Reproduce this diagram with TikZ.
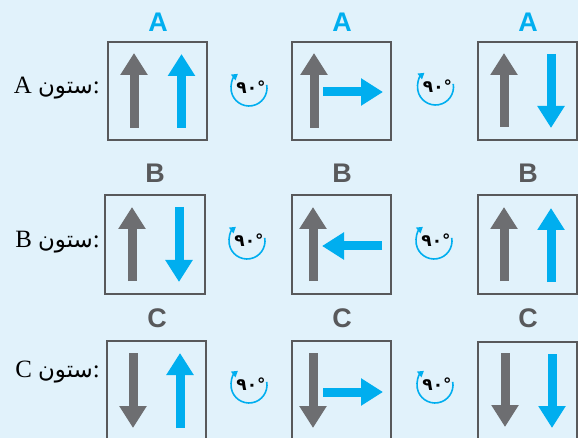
\documentclass[tikz,border=0pt]{standalone}
\usepackage{fontspec}
\usetikzlibrary{arrows.meta,calc}
\TeXXeTstate=1
\newfontfamily\arabicfont[Script=Arabic]{DejaVu Sans}
\newfontfamily\headfont{Liberation Sans}
\newfontfamily\latinserif{Liberation Serif}
\definecolor{bgblue}{HTML}{E1F2FB}
\definecolor{cyanarrow}{HTML}{00AEEF}
\definecolor{grayarrow}{HTML}{6D6E71}
\definecolor{boxgray}{HTML}{58595B}
\tikzset{
  panel/.style={draw=boxgray, line width=1.5bp},
  garrow/.style={draw=grayarrow, line width=9bp, -{Triangle[length=22bp,width=26bp,fill=grayarrow]}},
  barrow/.style={draw=cyanarrow, line width=9bp, -{Triangle[length=22bp,width=26bp,fill=cyanarrow]}},
  headA/.style={font=\headfont\bfseries\fontsize{27}{27}\selectfont, text=cyanarrow},
  headG/.style={font=\headfont\bfseries\fontsize{27}{27}\selectfont, text=boxgray},
  rowlabel/.style={anchor=east, font=\fontsize{25}{25}\selectfont, text=black, inner sep=0pt},
  rotarrow/.style={draw=cyanarrow, line width=1.6bp, -{Triangle[length=6bp,width=7bp]}},
  degtext/.style={font=\arabicfont\bfseries\fontsize{17}{17}\selectfont, inner sep=0pt}
}
\newcommand\sitoon{{\arabicfont\fontsize{23}{23}\selectfont\beginR ستون\endR}}
\begin{document}
\begin{tikzpicture}[x=1bp,y=-1bp]
\clip (0,0) rectangle (578,438);
\fill[bgblue] (0,0) rectangle (578,438);
\useasboundingbox (0,0) rectangle (578,438);

% ---------- row labels ----------
\node[rowlabel] (lA) at (100,88) {\latinserif A \sitoon:};
\node[rowlabel] (lB) at (100,242) {\latinserif B \sitoon:};
\node[rowlabel] (lC) at (100,372) {\latinserif C \sitoon:};

% ---------- headings ----------
\node[headA] (hA1) at (158,22) {A};
\node[headA] (hA2) at (342,22) {A};
\node[headA] (hA3) at (528,22) {A};
\node[headG] (hB1) at (155,173) {B};
\node[headG] (hB2) at (342,173) {B};
\node[headG] (hB3) at (528,173) {B};
\node[headG] (hC1) at (157,318) {C};
\node[headG] (hC2) at (342,318) {C};
\node[headG] (hC3) at (528,318) {C};

% ---------- boxes ----------
\draw[panel] (108,42) rectangle (207,140);
\draw[panel] (292,42) rectangle (391,140);
\draw[panel] (478,42) rectangle (577,140);
\draw[panel] (105,195) rectangle (205,294);
\draw[panel] (292,195) rectangle (391,294);
\draw[panel] (478,195) rectangle (577,294);
\draw[panel] (107,341) rectangle (206,441);
\draw[panel] (292,341) rectangle (391,441);
\draw[panel] (478,342) rectangle (577,441);

% ---------- arrows row A ----------
\draw[garrow] (134,128) -- (134,53);
\draw[barrow] (181.5,128) -- (181.5,54);
\draw[garrow] (314,128) -- (314,53);
\draw[barrow] (323,92) -- (383,92);
\draw[garrow] (504,127) -- (504,53);
\draw[barrow] (551,54) -- (551,128);

% ---------- arrows row B ----------
\draw[garrow] (132,281) -- (132,207);
\draw[barrow] (179,207) -- (179,282);
\draw[garrow] (313,281) -- (313,207);
\draw[barrow] (382,246) -- (322,246);
\draw[garrow] (504,281) -- (504,207);
\draw[barrow] (551,282) -- (551,208);

% ---------- arrows row C ----------
\draw[garrow] (133,353) -- (133,428);
\draw[barrow] (180,428) -- (180,353);
\draw[garrow] (313,353) -- (313,428);
\draw[barrow] (323,392) -- (383,392);
\draw[garrow] (505,353) -- (505,427);
\draw[barrow] (552,354) -- (552,428);

% ---------- rotation icons ----------
\foreach \cx/\cy/\nm in {249/88/rA1, 435.5/87/rA2, 247/241/rB1, 434/241/rB2, 249/385/rC1, 435/385/rC2}{
  \coordinate (\nm) at (\cx,\cy);
  \draw[rotarrow] ($(\nm)+(-10:18)$) arc[start angle=-10, end angle=232, radius=18];
  \node[degtext] at ($(\nm)+(2,-1)$) {۹۰°};
}
\end{tikzpicture}
\end{document}
